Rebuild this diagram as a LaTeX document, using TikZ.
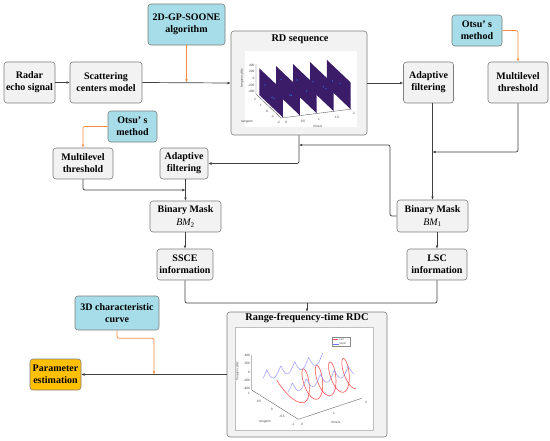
\documentclass[tikz,border=0pt]{standalone}
\usepackage{fontspec}
\setmainfont{Liberation Serif}
\newfontfamily\tickfont{Liberation Sans}
\usetikzlibrary{arrows.meta}
\definecolor{boxfill}{RGB}{242,242,242}
\definecolor{boxline}{RGB}{125,125,125}
\definecolor{bluefill}{RGB}{167,221,232}
\definecolor{paramfill}{RGB}{255,192,0}
\definecolor{conncol}{RGB}{64,64,64}
\definecolor{orangeln}{RGB}{247,140,64}
\definecolor{planecol}{RGB}{58,28,104}
\definecolor{dotcol}{RGB}{45,120,230}
\definecolor{lscred}{RGB}{250,85,85}
\definecolor{sceblue}{RGB}{115,115,250}
\definecolor{axiscol}{RGB}{70,70,70}
\begin{document}
\begin{tikzpicture}[x=1pt,y=-1pt,
  box/.style={draw=boxline,fill=boxfill,line width=0.6pt,rounded corners=3pt,align=center,
    font=\bfseries\fontsize{10}{12}\selectfont,inner sep=0pt},
  bbox/.style={box,fill=bluefill},
  pbox/.style={box,fill=paramfill},
  conn/.style={draw=conncol,line width=0.7pt,rounded corners=2pt,-{Latex[length=3.2pt,width=2.8pt]}},
  plainconn/.style={draw=conncol,line width=0.7pt,rounded corners=2pt},
  oconn/.style={draw=orangeln,line width=0.7pt,rounded corners=2pt,-{Latex[length=3.2pt,width=2.8pt]}},
  ttl/.style={font=\bfseries\fontsize{10.3}{12}\selectfont,inner sep=0pt},
  tick/.style={font=\tickfont\fontsize{3.2}{3.6}\selectfont,text=axiscol,inner sep=0.3pt},
  axisln/.style={draw=axiscol,line width=0.3pt},
  plane/.style={fill=planecol},
  lsc/.style={draw=lscred,line width=0.6pt},
  ssce/.style={draw=sceblue,line width=0.65pt,dash pattern=on 0.45pt off 0.6pt}
]
\useasboundingbox (0,0) rectangle (550,440);

% ---------- nodes ----------
\node[box,minimum width=51pt,minimum height=41pt] (radar) at (29.5,82.5) {Radar\\echo signal};
\node[box,minimum width=72pt,minimum height=41pt] (scat) at (106,82.5) {Scattering\\centers model};
\node[bbox,minimum width=77pt,minimum height=41pt] (gp) at (186.5,24.5) {2D-GP-SOONE\\algorithm};
\node[box,minimum width=136pt,minimum height=104pt] (rd) at (299,83) {};
\node[ttl] (rdtitle) at (300,39.5) {RD sequence};
\node[box,minimum width=50pt,minimum height=41pt] (adR) at (428.5,82.5) {Adaptive\\filtering};
\node[bbox,minimum width=50pt,minimum height=31pt] (otsuR) at (477,30.5) {Otsu’ s\\method};
\node[box,minimum width=60pt,minimum height=41pt] (mlR) at (518,82.5) {Multilevel\\threshold};
\node[bbox,minimum width=49pt,minimum height=31pt] (otsuL) at (132.5,126.5) {Otsu’ s\\method};
\node[box,minimum width=60pt,minimum height=31pt] (mlL) at (83,163.5) {Multilevel\\threshold};
\node[box,minimum width=48pt,minimum height=31pt] (adL) at (184,163.5) {Adaptive\\filtering};
\node[box,minimum width=71pt,minimum height=31pt] (bm2) at (185.5,216.5) {Binary Mask\\[1pt]{\mdseries\itshape BM}\textsubscript{\mdseries 2}};
\node[box,minimum width=71pt,minimum height=32pt] (bm1) at (432.5,216) {Binary Mask\\[1pt]{\mdseries\itshape BM}\textsubscript{\mdseries 1}};
\node[box,minimum width=56pt,minimum height=31pt] (ssce) at (185,264.5) {SSCE\\information};
\node[box,minimum width=60pt,minimum height=31pt] (lscbox) at (437,264.5) {LSC\\information};
\node[box,minimum width=160pt,minimum height=125pt] (rdc) at (307,374.5) {};
\node[ttl] (rdctitle) at (307,318.5) {Range-frequency-time RDC};
\node[pbox,minimum width=51pt,minimum height=31pt] (param) at (55.5,374.5) {Parameter\\estimation};
\node[bbox,minimum width=84pt,minimum height=34pt] (cur) at (117,313) {3D characteristic\\curve};

% ---------- junction coordinates ----------
\coordinate (fb) at (390,145);
\coordinate (jl) at (185.5,190);
\coordinate (jr) at (432.5,152);
\coordinate (mrg) at (307,303);
\coordinate (jp) at (154,374.5);

% ---------- connectors ----------
\draw[conn] (radar.east) -- (scat.west);
\draw[conn] (scat.east) -- (rd.west);
\draw[oconn] (gp.south) -- (gp.south |- scat.east);
\draw[conn] (rd.east) -- (rd.east -| adR.west);
\draw[oconn] (otsuR.east) -| (mlR.north);
\draw[conn] (rd.south) |- (adL.east);
\draw[conn] (bm1.west) -| (fb) -- (rd.south |- fb);
\draw[oconn] (otsuL.west) -| (mlL.north);
\draw[conn] (mlL.south) |- (jl);
\draw[conn] (adL.south -| bm2.north) -- (bm2.north);
\draw[conn] (adR.south -| bm1.north) -- (bm1.north);
\draw[conn] (mlR.south) |- (jr);
\draw[conn] (bm2.south -| ssce.north) -- (ssce.north);
\draw[conn] (bm1.south -| lscbox.north) -- (lscbox.north);
\draw[plainconn] (ssce.south) |- (mrg);
\draw[plainconn] (lscbox.south) |- (mrg);
\draw[conn] (mrg) -- (rdc.north);
\draw[conn] (rdc.west) -- (param.east);
\draw[oconn] (cur.south) -- ++(0,8) -| (jp);

% ---------- RD sequence plot ----------
\fill[white] (245,51) rectangle (357,127);
\draw[axisln] (256,64) -- (256,94) -- (281,118) -- (352,109);
\foreach \t in {2,1.5,1,0.5,0} {
  \fill[plane] ({259.3+33.8*\t},{68.3-4.2*\t}) -- ++(23.6,22.4) -- ++(0,26.7) -- ++(-23.6,-22.4) -- cycle;
}
\foreach \p in {(265,85),(272,97.5),(281,79.5),(290,95),(297,80),(306.7,91),(313,81.7),(323.3,86.7),(332.3,81),(340,83.3),(326,88.8),(274,98.5),(291.5,95.5)}
  \fill[dotcol] \p ellipse (0.55 and 0.8);
\node[tick,anchor=east] (rf1) at (255,65) {400};
\node[tick,anchor=east] (rf2) at (255,71.7) {200};
\node[tick,anchor=east] (rf3) at (255,78.3) {0};
\node[tick,anchor=east] (rf4) at (255,85) {-200};
\node[tick,anchor=east] (rf5) at (255,91.7) {-400};
\node[tick,rotate=90] (rfl) at (242,78) {frequency/Hz};
\node[tick] (rr1) at (255,99) {2};
\node[tick] (rr2) at (261,105) {1};
\node[tick] (rr3) at (267,111) {0};
\node[tick] (rr4) at (272.5,116.5) {-1};
\node[tick] (rr5) at (278.5,122) {-2};
\node[tick] (rrl) at (247,122) {range/m};
\node[tick] (rt1) at (286,122.5) {0};
\node[tick] (rt2) at (303,121) {0.5};
\node[tick] (rt3) at (319,119) {1};
\node[tick] (rt4) at (337,117) {1.5};
\node[tick] (rt5) at (354,113) {2};
\node[tick] (rtl) at (318,126) {time/s};

% ---------- RDC plot ----------
\filldraw[fill=white,draw=black!25,line width=0.8pt] (235,327) rectangle (373,430);
\draw[axisln] (251.7,355) -- (251.7,390) -- (298.3,419.3) -- (361.7,398.3);
\node[tick,anchor=east] (cf1) at (250.5,355.5) {400};
\node[tick,anchor=east] (cf2) at (250.5,363.8) {200};
\node[tick,anchor=east] (cf3) at (250.5,372.1) {0};
\node[tick,anchor=east] (cf4) at (250.5,380.4) {-200};
\node[tick,anchor=east] (cf5) at (250.5,388.7) {-400};
\node[tick,rotate=90] (cfl) at (237.5,371) {frequency/Hz};
\node[tick] (cr1) at (249,393) {1};
\node[tick] (cr2) at (259,401) {0.5};
\node[tick] (cr3) at (271.7,409) {0};
\node[tick] (cr4) at (282,416.5) {-0.5};
\node[tick] (cr5) at (293,424) {-1};
\node[tick] (crl) at (265,421.5) {range/m};
\node[tick] (ct1) at (302,424.5) {0};
\node[tick] (ct2) at (334,413) {1};
\node[tick] (ct3) at (366,402) {2};
\node[tick] (ctl) at (336,422) {time/s};
\draw[ssce] plot[domain=0.75:5,samples=220,variable=\u] ({252.7+14*\u},{374.2-4.2*\u+10*abs(sin(180*\u))});
\draw[lsc] (276.7,380) .. controls (284,392) and (294,403) .. (303,402.75)
  -- plot[domain=180:1620,samples=260,variable=\s] ({293.35+0.03695*\s-3*cos(\s)-6*sin(\s)},{388.5-0.00972*\s-16*cos(\s)});
\draw[ssce] plot[domain=0.7:5.4,samples=220,variable=\u] ({278.3+14*\u},{386.9-4.2*\u+10*abs(sin(180*\u))});
% legend
\filldraw[fill=white,draw=black!45,line width=0.3pt] (331.7,337.3) rectangle (350.5,346.3);
\draw[lsc,line width=0.6pt] (333,339.6) -- (338.3,339.6);
\node[tick,anchor=west,font=\tickfont\fontsize{2.6}{3}\selectfont] (lg1) at (338.6,339.6) {LSC};
\draw[ssce,line width=0.6pt] (333,343.9) -- (338.3,343.9);
\node[tick,anchor=west,font=\tickfont\fontsize{2.6}{3}\selectfont] (lg2) at (338.6,343.9) {SSCE};
\end{tikzpicture}
\end{document}
